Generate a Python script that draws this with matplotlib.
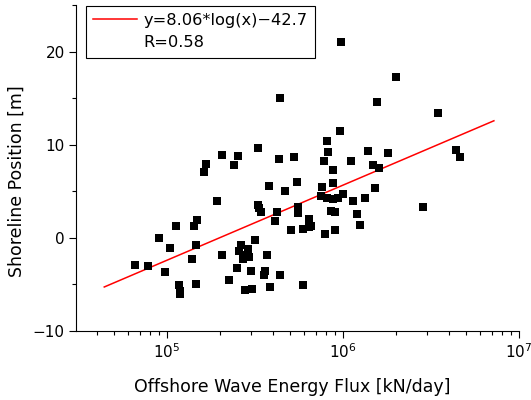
import numpy as np
import matplotlib
matplotlib.use("Agg")
import matplotlib.pyplot as plt
from matplotlib.lines import Line2D
from matplotlib.ticker import LogLocator, MultipleLocator, NullFormatter

plt.rcParams['font.family'] = ['DejaVu Sans']

# Offshore wave energy flux [kN/day]
flux = [6.6e4, 7.77e4, 9.0e4, 9.75e4, 1.04e5, 1.12e5, 1.17e5, 1.19e5, 1.19e5,
        1.38e5, 1.43e5, 1.48e5, 1.46e5, 1.47e5, 1.62e5, 1.67e5, 1.93e5, 2.04e5,
        2.05e5, 2.26e5, 2.41e5, 2.49e5, 2.53e5, 2.58e5, 2.64e5, 2.72e5, 2.74e5,
        2.76e5, 2.88e5, 2.94e5, 2.99e5, 3.04e5, 3.18e5, 3.31e5, 3.29e5, 3.34e5,
        3.43e5, 3.62e5, 3.56e5, 3.72e5, 3.81e5, 3.85e5, 4.09e5, 4.24e5, 4.34e5,
        4.38e5, 4.38e5, 4.66e5, 5.08e5, 5.28e5, 5.46e5, 5.55e5, 5.55e5, 5.95e5,
        5.96e5, 6.38e5, 6.44e5, 6.61e5, 7.54e5, 7.6e5, 7.8e5, 7.95e5, 8.08e5,
        8.15e5, 8.22e5, 8.59e5, 8.74e5, 8.74e5, 8.81e5, 9.04e5, 9.04e5, 9.37e5,
        9.61e5, 9.73e5, 1.0e6, 1.11e6, 1.14e6, 1.2e6, 1.25e6, 1.34e6, 1.38e6,
        1.48e6, 1.51e6, 1.57e6, 1.61e6, 1.79e6, 2.01e6, 2.84e6, 3.47e6, 4.38e6,
        4.64e6]
# Shoreline position [m]
shore = [-2.88, -2.99, 0.0, -3.64, -1.08, 1.27, -5.02, -5.67, -6.03,
         -2.23, 1.27, 1.92, -0.82, -4.98, 7.12, 7.98, 3.94, -1.87,
         8.92, -4.48, 7.77, -3.21, 8.77, -1.44, -0.79, -2.31, -1.8,
         -5.56, -1.15, -2.02, -3.61, -5.48, -0.28, 9.62, 3.51, 3.19,
         2.82, -3.61, -4.04, -1.87, 5.52, -5.27, 1.84, 2.78, 8.5,
         15.05, -4.04, 5.03, 0.83, 8.68, 5.96, 3.36, 2.71, 0.91,
         -5.06, 2.0, 1.13, 1.27, 4.48, 5.49, 8.2, 0.37, 4.27,
         10.44, 9.21, 2.89, 7.26, 5.85, 4.19, 2.82, 0.8, 4.27,
         11.42, 21.08, 4.7, 8.2, 3.97, 2.6, 1.38, 4.27, 9.28,
         7.77, 5.35, 14.56, 7.48, 9.14, 17.32, 3.33, 13.38, 9.4,
         8.68]

fit_slope = 8.06
fit_intercept = -42.7
fit_range = [4.4e4, 7.2e6]
fit_label = "y=8.06*log(x)\u221242.7"
r_label = "R=0.58"

fig = plt.figure(figsize=(5.31, 4.0), dpi=100)
ax = fig.add_axes([76/531, (400-331)/400, (519-76)/531, (331-5)/400])

fx = np.logspace(np.log10(fit_range[0]), np.log10(fit_range[1]), 100)
fy = fit_slope*np.log10(fx) + fit_intercept
ax.plot(fx, fy, color='#ff0000', lw=1.1, zorder=2)
ax.plot(flux, shore, 's', color='black', ms=5.4, mew=0, zorder=3)

ax.set_xscale('log')
ax.set_xlim(3.04e4, 1e7)
ax.set_ylim(-10, 25)
ax.yaxis.set_major_locator(MultipleLocator(10))
ax.yaxis.set_minor_locator(MultipleLocator(5))
ax.xaxis.set_major_locator(LogLocator(base=10, numticks=10))
ax.xaxis.set_minor_locator(LogLocator(base=10, subs=np.arange(2, 10), numticks=20))
ax.xaxis.set_minor_formatter(NullFormatter())

for s in ['top', 'right']:
    ax.spines[s].set_visible(False)
for s in ['left', 'bottom']:
    ax.spines[s].set_linewidth(0.8)

ax.tick_params(which='major', direction='out', length=5, width=0.8, labelsize=11, pad=3)
ax.tick_params(which='minor', direction='out', length=2.8, width=0.8)

ax.set_xlabel('Offshore Wave Energy Flux [kN/day]', fontsize=12.5)
ax.set_ylabel('Shoreline Position [m]', fontsize=12.5)
ax.xaxis.set_label_coords(0.489, -0.145)
ax.yaxis.set_label_coords(-0.113, 0.46)

handles = [Line2D([], [], color='#ff0000', lw=1.1),
           Line2D([], [], color='none')]
leg = ax.legend(handles, [fit_label, r_label], loc='upper left',
                bbox_to_anchor=(10/443, 0.998), fontsize=11.7, frameon=True,
                fancybox=False, edgecolor='black', framealpha=1,
                borderpad=0.45, labelspacing=0.46, handlelength=2.7,
                handletextpad=0.38, borderaxespad=0.0)
leg.get_frame().set_linewidth(0.8)

fig.savefig('out.png', dpi=100)
